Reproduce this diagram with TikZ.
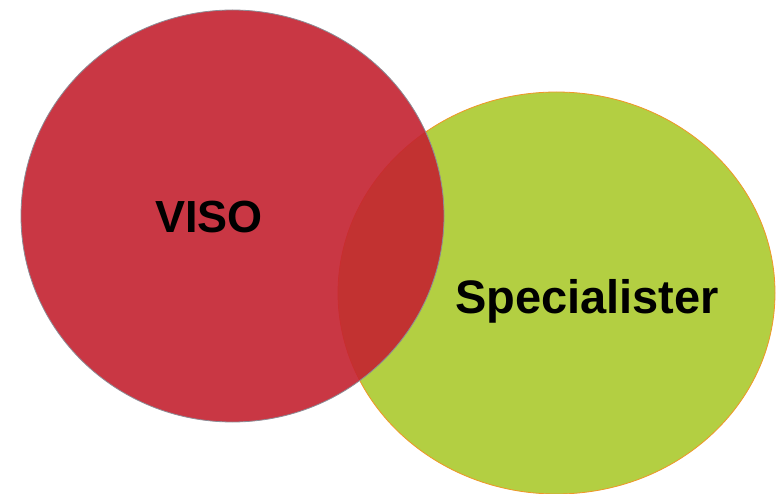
\documentclass[tikz,border=0pt]{standalone}
\usepackage{fontspec}
\setmainfont{Liberation Sans}
\definecolor{vred}{RGB}{196,34,48}
\definecolor{vgreen}{RGB}{179,207,66}
\definecolor{vorange}{RGB}{240,150,40}
\definecolor{vgray}{RGB}{140,140,150}
\tikzset{
  greenblob/.style={fill=vgreen, draw=vorange, line width=0.8pt},
  redblob/.style={fill=vred, fill opacity=0.9, draw=vgray, line width=0.8pt},
  lbl/.style={anchor=base, text=black, inner sep=0pt}
}
\begin{document}
\begin{tikzpicture}[x=1pt,y=-1pt]
\useasboundingbox (0,0) rectangle (779,494);
\fill[white] (0,0) rectangle (779,494);
\draw[greenblob] (556.5,293) ellipse [x radius=218.5, y radius=201];
\draw[redblob] (232.5,216) ellipse [x radius=211.5, y radius=206];
\node[lbl, font=\fontsize{45}{50}\selectfont\bfseries] (viso) at (209,233) {VISO};
\node[lbl, font=\fontsize{47}{52}\selectfont\bfseries] (spec) at (587,314) {Specialister};
\end{tikzpicture}
\end{document}
